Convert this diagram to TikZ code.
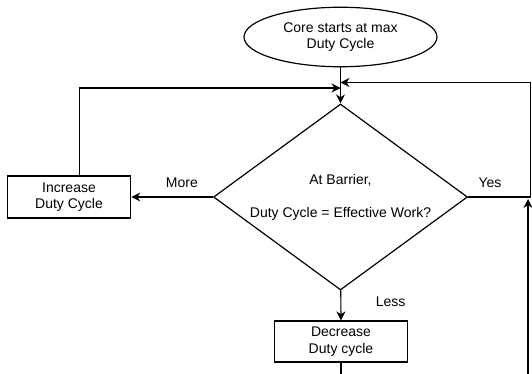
\documentclass[tikz,border=0pt]{standalone}
\usepackage{fontspec}
\setmainfont{Liberation Sans}
\usepackage{tikz}
\usetikzlibrary{arrows.meta, shapes.geometric}

\begin{document}
\begin{tikzpicture}[x=1pt, y=1pt, line width=1.2pt,
    every node/.style={font=\fontsize{14}{16.5}\selectfont, align=center},
    startnode/.style={ellipse, draw, inner sep=0pt, minimum width=193pt, minimum height=59.5pt},
    process/.style={rectangle, draw, inner sep=0pt},
    decision/.style={diamond, draw, inner sep=0pt, aspect=1.366, minimum width=254pt, minimum height=186pt},
    >={Stealth[length=9pt, width=9pt]}]
    \useasboundingbox (0,0) rectangle (532,-374);
    \clip (0,0) rectangle (532,-374);
    % Start
    \node[startnode] (start) at (340.5,-37) {Core starts at max\\Duty Cycle};
    % Decision
    \node[decision] (check) at (340.5,-197) {At Barrier,\\[16.5pt]Duty Cycle = Effective Work?};
    % Actions
    \node[process, minimum width=123.5pt, minimum height=42pt] (inc) at (69,-197) {Increase\\Duty Cycle};
    \node[process, minimum width=133.5pt, minimum height=41pt] (dec) at (341,-341.5) {Decrease\\Duty cycle};
    % Loop points
    \coordinate (joinL) at (340.5,-88);
    \coordinate (joinR) at (340.5,-82.5);
    \coordinate (loopR) at (530.5,-82.5);
    \coordinate (loopB) at (528,-400);
    \coordinate (backIn) at (528,-199);
    % Arrows
    \draw[->] (start) -- (check);
    \draw[->] (check) -- node[pos=0.38, above=5pt] {More} (inc);
    \draw[->] ([xshift=10.5pt]inc.north) |- (joinL);
    \draw[->] (check.east) -- node[pos=0.35, above=5pt] {Yes} (check.east -| loopR) -- (loopR) -- (joinR);
    \draw[->] (check) -- node[pos=0.39, right=31pt] {Less} (dec);
    \draw[->] (dec.south) |- (loopB) -- (backIn);
\end{tikzpicture}
\end{document}
